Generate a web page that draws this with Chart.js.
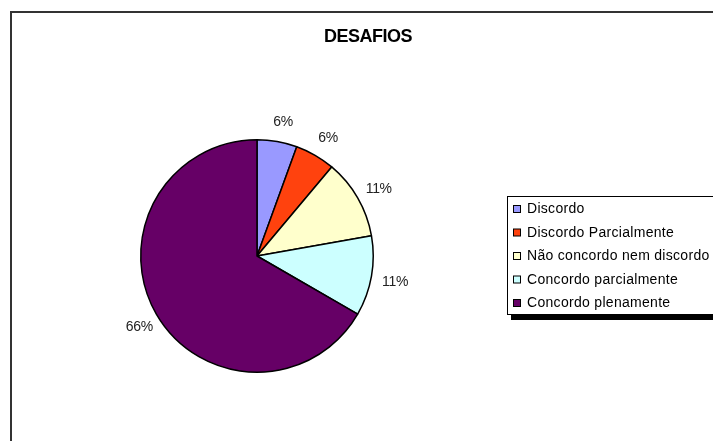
<!DOCTYPE html>
<html>
<head>
<meta charset="utf-8">
<script src="https://cdn.jsdelivr.net/npm/chart.js@4/dist/chart.umd.min.js"></script>
<style>
  html, body { margin: 0; padding: 0; background: #fff; }
  #wrap { position: relative; width: 713px; height: 441px; }
</style>
</head>
<body>
<div id="wrap"><canvas id="c" width="713" height="441"></canvas></div>
<script>
const chartTitle = 'DESAFIOS';
const categories = ['Discordo', 'Discordo Parcialmente', 'Não concordo nem discordo', 'Concordo parcialmente', 'Concordo plenamente'];
const values = [5.5, 5.5, 11, 11, 66];
const sliceColors = ['#9999FF', '#FF420E', '#FFFFCC', '#CCFFFF', '#660066'];

const FONT = '"Liberation Sans", Arial, sans-serif';

const framePlugin = {
  id: 'frame',
  beforeDraw(chart) {
    const ctx = chart.ctx;
    ctx.save();
    ctx.fillStyle = '#fff';
    ctx.fillRect(0, 0, chart.width, chart.height);
    ctx.strokeStyle = '#333';
    ctx.lineWidth = 2;
    ctx.beginPath();
    ctx.moveTo(11, chart.height + 5);
    ctx.lineTo(11, 12);
    ctx.lineTo(chart.width + 5, 12);
    ctx.stroke();
    // title
    ctx.fillStyle = '#000';
    ctx.font = 'bold 18px ' + FONT;
    ctx.textAlign = 'center';
    ctx.textBaseline = 'middle';
    try { ctx.letterSpacing = '-0.5px'; } catch (e) {}
    ctx.fillText(chartTitle, 368, 37);
    try { ctx.letterSpacing = '0px'; } catch (e) {}
    ctx.restore();
  }
};

const labelPlugin = {
  id: 'pctLabels',
  afterDatasetsDraw(chart) {
    const ctx = chart.ctx;
    const meta = chart.getDatasetMeta(0);
    const ds = chart.data.datasets[0].data;
    ctx.save();
    ctx.fillStyle = '#222';
    ctx.font = '14px ' + FONT;
    ctx.textAlign = 'center';
    ctx.textBaseline = 'middle';
    try { ctx.letterSpacing = '-0.3px'; } catch (e) {}
    meta.data.forEach((arc, i) => {
      const p = arc.getProps(['x', 'y', 'startAngle', 'endAngle', 'outerRadius'], true);
      const mid = (p.startAngle + p.endAngle) / 2;
      const r = p.outerRadius + 22;
      ctx.fillText(Math.round(ds[i]) + '%', p.x + Math.cos(mid) * r + 2, p.y + Math.sin(mid) * r + 2);
    });
    ctx.restore();
  }
};

const legendPlugin = {
  id: 'boxLegend',
  afterDraw(chart) {
    const ctx = chart.ctx;
    const bx = 507, by = 196, bw = 230, bh = 118;
    ctx.save();
    // shadow
    ctx.fillStyle = '#000';
    ctx.fillRect(bx + 4, by + bh, bw, 6);
    ctx.fillStyle = '#fff';
    ctx.fillRect(bx, by, bw, bh);
    ctx.strokeStyle = '#000';
    ctx.lineWidth = 1;
    ctx.strokeRect(bx + 0.5, by + 0.5, bw, bh);
    ctx.font = '14px ' + FONT;
    ctx.textAlign = 'left';
    ctx.textBaseline = 'middle';
    try { ctx.letterSpacing = '0.3px'; } catch (e) {}
    chart.data.labels.forEach((lab, i) => {
      const cy = 209 + i * 23.5;
      ctx.fillStyle = chart.data.datasets[0].backgroundColor[i];
      ctx.fillRect(513.5, cy - 3.5, 7, 7);
      ctx.strokeStyle = '#000';
      ctx.strokeRect(513.5, cy - 3.5, 7, 7);
      ctx.fillStyle = '#000';
      ctx.fillText(lab, 527, cy + 0.5);
    });
    ctx.restore();
  }
};

new Chart(document.getElementById('c'), {
  type: 'pie',
  data: {
    labels: categories,
    datasets: [{
      data: values,
      backgroundColor: sliceColors,
      borderColor: '#000',
      borderWidth: 1.5
    }]
  },
  options: {
    responsive: false,
    animation: false,
    layout: { padding: { left: 140, right: 339, top: 139, bottom: 68 } },
    plugins: {
      legend: { display: false },
      title: { display: false },
      tooltip: { enabled: false }
    }
  },
  plugins: [framePlugin, labelPlugin, legendPlugin]
});
</script>
</body>
</html>
